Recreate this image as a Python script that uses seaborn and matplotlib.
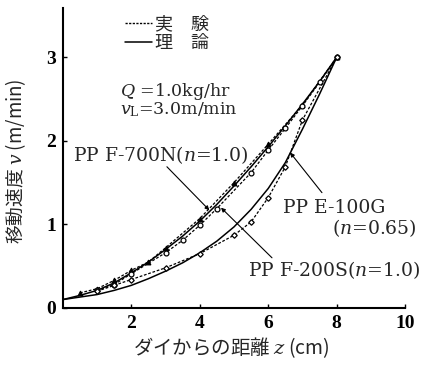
import matplotlib
matplotlib.use("Agg")
import matplotlib.pyplot as plt
from matplotlib.lines import Line2D
import numpy as np
import pandas as pd
import seaborn as sns

# Theoretical curves (solid)
theory_z = [0.0, 0.5, 1.0, 1.5, 2.0, 2.5, 3.0, 3.5, 4.0, 4.5, 5.0, 5.5, 6.0, 6.5, 7.0, 7.5, 8.0]
theory_n100 = [0.10, 0.15, 0.21, 0.30, 0.42, 0.55, 0.70, 0.86, 1.04, 1.24, 1.46, 1.69, 1.93, 2.18, 2.44, 2.71, 3.00]
theory_n065 = [0.10, 0.13, 0.16, 0.21, 0.27, 0.35, 0.44, 0.54, 0.66, 0.80, 0.97, 1.18, 1.43, 1.74, 2.14, 2.56, 3.00]

# Measured points (dashed)
f700n_z = [0.5, 1.0, 1.5, 2.0, 2.5, 3.0, 4.0, 5.0, 6.0, 7.0, 8.0]
f700n_v = [0.18, 0.23, 0.33, 0.45, 0.55, 0.72, 1.07, 1.50, 1.96, 2.43, 3.00]
f200s_z = [1.0, 1.5, 2.0, 3.0, 3.5, 4.0, 4.5, 5.5, 6.0, 6.5, 7.0, 7.5, 8.0]
f200s_v = [0.21, 0.28, 0.41, 0.66, 0.81, 0.99, 1.19, 1.62, 1.89, 2.15, 2.42, 2.70, 3.00]
e100g_z = [1.0, 1.5, 2.0, 3.0, 4.0, 5.0, 5.5, 6.0, 6.5, 7.0, 8.0]
e100g_v = [0.20, 0.27, 0.34, 0.48, 0.65, 0.87, 1.03, 1.32, 1.69, 2.25, 3.00]

x_ticks = [2, 4, 6, 8, 10]
y_ticks = [0, 1, 2, 3]

sns.set_theme(style="ticks")
plt.rcParams["font.family"] = ["DejaVu Serif", "Noto Sans CJK JP", "DejaVu Sans"]
plt.rcParams["mathtext.fontset"] = "custom"
plt.rcParams["mathtext.it"] = "DejaVu Serif:italic"
plt.rcParams["mathtext.rm"] = "DejaVu Serif"
plt.rcParams["mathtext.bf"] = "DejaVu Serif:bold"

fig = plt.figure(figsize=(4.22, 3.67), dpi=100)
ax = fig.add_axes([0.149, 0.161, 0.811, 0.817])

theory = pd.DataFrame({"z": theory_z, "n1": theory_n100, "n065": theory_n065})
dash = (0, (2.2, 1.4))

sns.lineplot(data=theory, x="z", y="n1", ax=ax, color="black", lw=1.1)
sns.lineplot(data=theory, x="z", y="n065", ax=ax, color="black", lw=1.1)

sns.lineplot(x=f700n_z, y=f700n_v, ax=ax, color="black", lw=0.9, linestyle=dash,
             marker="^", markersize=3.5, markerfacecolor="black", markeredgecolor="black")
sns.lineplot(x=f200s_z, y=f200s_v, ax=ax, color="black", lw=0.9, linestyle=dash,
             marker="o", markersize=3.5, markerfacecolor="white", markeredgecolor="black",
             markeredgewidth=0.9)
sns.lineplot(x=e100g_z, y=e100g_v, ax=ax, color="black", lw=0.9, linestyle=dash,
             marker="D", markersize=2.8, markerfacecolor="white", markeredgecolor="black",
             markeredgewidth=0.9)

ax.set_xlim(0, 10)
ax.set_ylim(0, 3.59)
ax.set_xticks(x_ticks)
ax.set_yticks(y_ticks)
ax.set_xticklabels([str(t) for t in x_ticks], fontsize=14, fontweight="bold",
                   family="Liberation Serif")
ax.set_yticklabels([str(t) for t in y_ticks], fontsize=14, fontweight="bold",
                   family="Liberation Serif")
ax.tick_params(direction="in", length=3, width=1.0, colors="black", pad=5)
ax.set_xlabel("")
ax.set_ylabel("")
for s in ["top", "right"]:
    ax.spines[s].set_visible(False)
for s in ["left", "bottom"]:
    ax.spines[s].set_linewidth(1.5)
    ax.spines[s].set_color("black")

# Conditions
ax.text(1.67, 2.59, r"$Q$ =1.0kg/hr", fontsize=12.5, ha="left", va="center")
ax.text(1.67, 2.37, r"$v_{\rm L}$=3.0m/min", fontsize=12.5, ha="left", va="center")

# Curve labels with leader arrows
arrow = dict(arrowstyle="-|>", color="black", lw=0.8, mutation_scale=6, shrinkA=0, shrinkB=0)
ax.text(2.87, 1.83, r"PP F-700N($n$=1.0)", fontsize=13.5, ha="center", va="center")
ax.annotate("", xy=(4.28, 1.17), xytext=(3.04, 1.69), arrowprops=arrow)
ax.text(7.92, 0.455, r"PP F-200S($n$=1.0)", fontsize=13.5, ha="center", va="center")
ax.annotate("", xy=(4.62, 1.20), xytext=(6.11, 0.60), arrowprops=arrow)
ax.text(7.92, 1.20, "PP E-100G", fontsize=13.5, ha="center", va="center")
ax.text(10.35, 0.96, r"($n$=0.65)", fontsize=13.5, ha="right", va="center")
ax.annotate("", xy=(6.64, 1.86), xytext=(7.57, 1.38), arrowprops=arrow)

# Line-style key
handles = [Line2D([], [], color="black", lw=1.0, linestyle=(0, (1.6, 1.0))),
           Line2D([], [], color="black", lw=1.1)]
leg = ax.legend(handles, ["実\u3000験", "理\u3000論"], loc="upper left",
                bbox_to_anchor=(0.181, 0.975), frameon=False, borderpad=0, borderaxespad=0,
                handlelength=1.5, handletextpad=0.15, labelspacing=0.05,
                prop={"family": ["Noto Sans CJK JP"], "size": 13})

# Axis titles
fig.text(0.548, 0.052, r"ダイからの距離 $z$ (cm)", ha="center", va="center", fontsize=14,
         family=["Noto Sans CJK JP", "DejaVu Serif"])
fig.text(0.036, 0.56, r"移動速度 $v$ (m/min)", ha="center", va="center", fontsize=13.5,
         rotation=90, family=["Noto Sans CJK JP", "DejaVu Serif"])

fig.savefig("out.png", dpi=100, facecolor="white")
